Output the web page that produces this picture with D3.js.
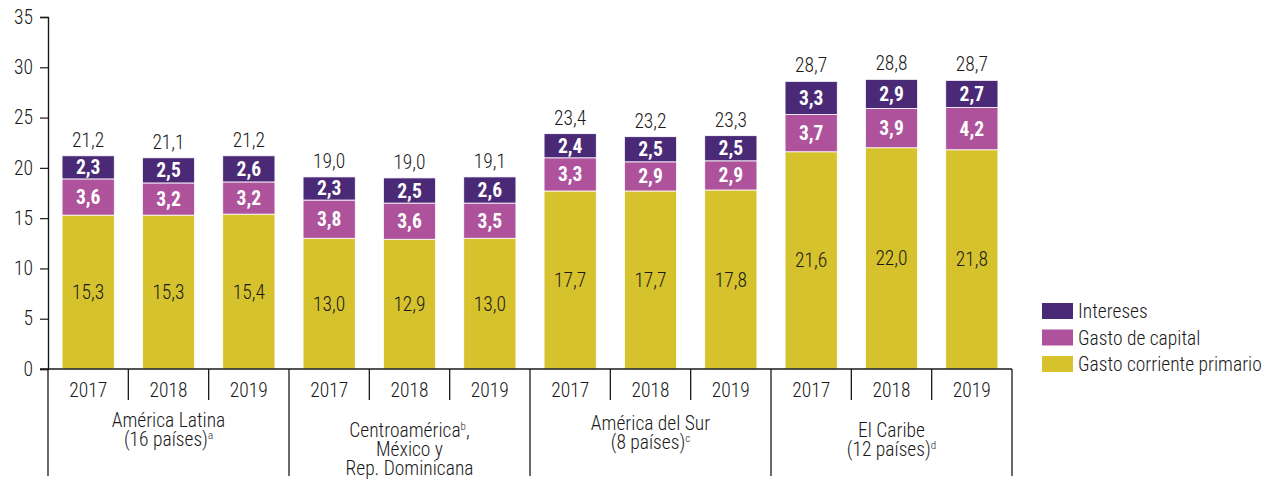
<!DOCTYPE html>
<html>
<head>
<meta charset="utf-8">
<script src="https://cdn.jsdelivr.net/npm/d3@7"></script>
<style>
  body { margin: 0; background: #fff; }
  svg text { font-family: "Roboto Condensed", "Liberation Sans Narrow", "DejaVu Sans Condensed", sans-serif; fill: #1a1a1a; font-weight: 300; }
</style>
</head>
<body>
<div id="chart"></div>
<script>
// data
var groups = [
  ["América Latina", "(16 países)|a"],
  ["Centroamérica|b|,", "México y", "Rep. Dominicana"],
  ["América del Sur", "(8 países)|c"],
  ["El Caribe", "(12 países)|d"]
];
var years = ["2017", "2018", "2019"];
var corriente = [15.3, 15.3, 15.4, 13.0, 12.9, 13.0, 17.7, 17.7, 17.8, 21.6, 22.0, 21.8];
var capital   = [3.6, 3.2, 3.2, 3.8, 3.6, 3.5, 3.3, 2.9, 2.9, 3.7, 3.9, 4.2];
var intereses = [2.3, 2.5, 2.6, 2.3, 2.5, 2.6, 2.4, 2.5, 2.5, 3.3, 2.9, 2.7];
var totals    = [21.2, 21.1, 21.2, 19.0, 19.0, 19.1, 23.4, 23.2, 23.3, 28.7, 28.8, 28.7];
var yTicks = [0, 5, 10, 15, 20, 25, 30, 35];

var seriesNames = ["Gasto corriente primario", "Gasto de capital", "Intereses"];
var colors = { "Gasto corriente primario": "#d6c22d", "Gasto de capital": "#ae529b", "Intereses": "#4a2a76" };

var width = 1282, height = 482;
var mLeft = 48, mRight = 1012, mTop = 17, mBottom = 369;
var fs = "19.5px";

var svg = d3.select("#chart").append("svg")
    .attr("width", width)
    .attr("height", height);

// one row per bar
var rows = [];
groups.forEach(function(g, gi) {
  years.forEach(function(yr, yi) {
    var i = gi * 3 + yi;
    rows.push({ key: gi + "-" + yr, group: gi, year: yr,
      "Gasto corriente primario": corriente[i], "Gasto de capital": capital[i], "Intereses": intereses[i],
      total: totals[i] });
  });
});

var x = d3.scaleBand()
  .domain(rows.map(function(d) { return d.key; }))
  .range([mLeft, mRight])
  .paddingInner(0.35)
  .paddingOuter(0.175);

var y = d3.scaleLinear().domain([0, 35]).range([mBottom, mTop]);

var stacked = d3.stack().keys(seriesNames)(rows);
var fmt = function(v) { return d3.format(".1f")(v).replace(".", ","); };

// bars
var layers = svg.append("g").selectAll("g")
  .data(stacked).enter().append("g")
    .attr("fill", function(s) { return colors[s.key]; });

layers.selectAll("rect")
  .data(function(s) { return s; })
  .enter().append("rect")
    .attr("x", function(d) { return x(d.data.key); })
    .attr("y", function(d) { return y(d[1]); })
    .attr("width", x.bandwidth())
    .attr("height", function(d) { return y(d[0]) - y(d[1]); })
    .attr("stroke", "#fff")
    .attr("stroke-width", 0.8);

// labels inside segments
layers.each(function(s) {
  var first = s.key === "Gasto corriente primario";
  d3.select(this).selectAll("text")
    .data(s).enter().append("text")
      .attr("x", function(d) { return x(d.data.key) + x.bandwidth() / 2; })
      .attr("y", function(d) { return (y(d[0]) + y(d[1])) / 2; })
      .attr("dy", "0.36em")
      .attr("text-anchor", "middle")
      .style("font-size", fs)
      .style("font-weight", first ? "300" : "bold")
      .style("fill", first ? "#1a1a1a" : "#fff")
      .text(function(d) { return fmt(d.data[s.key]); });
});

// totals above bars
svg.append("g").selectAll("text")
  .data(rows).enter().append("text")
    .attr("x", function(d) { return x(d.key) + x.bandwidth() / 2; })
    .attr("y", function(d) { return y(d["Gasto corriente primario"] + d["Gasto de capital"] + d["Intereses"]) - 9; })
    .attr("text-anchor", "middle")
    .style("font-size", fs)
    .text(function(d) { return fmt(d.total); });

// y axis
var yAxis = svg.append("g")
  .attr("transform", "translate(" + mLeft + ",0)")
  .call(d3.axisLeft(y).tickValues(yTicks).tickSize(8).tickPadding(7).tickFormat(d3.format("d")));
yAxis.select(".domain").attr("stroke", "#1a1a1a").attr("stroke-width", 1.4);
yAxis.selectAll(".tick line").attr("stroke", "#1a1a1a").attr("stroke-width", 1.2);
yAxis.selectAll(".tick text").style("font-size", fs).attr("fill", null);
yAxis.attr("font-family", null).attr("font-size", null);

// x axis baseline
var xa = svg.append("g").attr("stroke", "#1a1a1a");
xa.append("line")
  .attr("x1", mLeft - 8).attr("x2", mRight)
  .attr("y1", mBottom).attr("y2", mBottom)
  .attr("stroke-width", 1.4);

// year separators (short) and group separators (long)
var step = x.step();
d3.range(rows.length + 1).forEach(function(i) {
  var xx = mLeft + i * step;
  var isGroup = i % 3 === 0;
  xa.append("line")
    .attr("x1", xx).attr("x2", xx)
    .attr("y1", mBottom).attr("y2", isGroup ? 476 : 400)
    .attr("stroke-width", 1.3);
});

// year labels
svg.append("g").selectAll("text")
  .data(rows).enter().append("text")
    .attr("x", function(d) { return x(d.key) + x.bandwidth() / 2; })
    .attr("y", 397)
    .attr("text-anchor", "middle")
    .style("font-size", fs)
    .text(function(d) { return d.year; });

// group labels (with superscript notes)
var labelTop = [427, 437, 430, 437];
groups.forEach(function(lines, gi) {
  var cx = mLeft + (gi * 3 + 1.5) * step;
  var t = svg.append("text")
    .attr("x", cx)
    .attr("y", labelTop[gi])
    .attr("text-anchor", "middle")
    .style("font-size", fs);
  lines.forEach(function(line, li) {
    var parts = line.split("|");
    t.append("tspan").attr("x", cx).attr("dy", li === 0 ? 0 : 19).text(parts[0]);
    if (parts.length > 1) {
      t.append("tspan").attr("dy", -7).style("font-size", "11px").text(parts[1]);
      t.append("tspan").attr("dy", 7).text(parts[2] || "");
    }
  });
});

// legend
var legend = svg.append("g").attr("transform", "translate(1042,303)");
var legendItems = seriesNames.slice().reverse();
legendItems.forEach(function(name, i) {
  var g = legend.append("g").attr("transform", "translate(0," + (i * 26.5) + ")");
  g.append("rect").attr("width", 31).attr("height", 16).attr("fill", colors[name]);
  g.append("text").attr("x", 36).attr("y", 8).attr("dy", "0.36em")
    .style("font-size", fs).text(name);
});
</script>
</body>
</html>
